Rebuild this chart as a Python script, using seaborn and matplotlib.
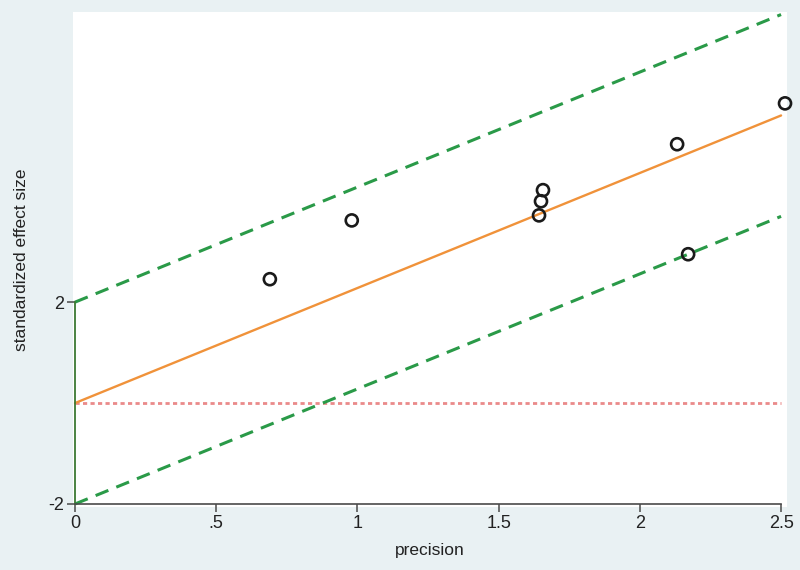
import numpy as np
import pandas as pd
import seaborn as sns
import matplotlib.pyplot as plt

# Galbraith plot data
precision = [0.69, 0.98, 1.643, 1.65, 1.657, 2.132, 2.171, 2.514]
effect_z = [2.455, 3.62, 3.72, 4.0, 4.22, 5.13, 2.95, 5.94]
slope = 2.28
band = 2.0
x_ticks = [0, 0.5, 1, 1.5, 2, 2.5]
x_tick_labels = ['0', '.5', '1', '1.5', '2', '2.5']
y_ticks = [-2, 2]
y_tick_labels = ['-2', '2']

sns.set_theme(style='white')
plt.rcParams['font.family'] = ['Liberation Sans', 'DejaVu Sans']

fig = plt.figure(figsize=(8, 5.7), dpi=100, facecolor='#e9f1f3')
ax = fig.add_axes([0.09125, 0.1105, 0.8925, 0.8684])
ax.set_facecolor('white')

pts = pd.DataFrame({'precision': precision, 'z': effect_z})
xs = np.array([0, x_ticks[-1]])
lines = pd.DataFrame({
    'x': xs,
    'fit': slope * xs,
    'upper': slope * xs + band,
    'lower': slope * xs - band,
    'zero': np.zeros(2),
})

sns.lineplot(data=lines, x='x', y='zero', ax=ax, color='#ea8a8a',
             lw=2.0, linestyle=(0, (1.5, 1.2)))
sns.lineplot(data=lines, x='x', y='upper', ax=ax, color='#2a9a48',
             lw=2.2, linestyle=(0, (4.5, 2.8)))
sns.lineplot(data=lines, x='x', y='lower', ax=ax, color='#2a9a48',
             lw=2.2, linestyle=(0, (4.5, 2.8)))
sns.lineplot(data=lines, x='x', y='fit', ax=ax, color='#f0923a', lw=1.7)
sns.scatterplot(data=pts, x='precision', y='z', ax=ax, s=75,
                facecolor='none', edgecolor='#1a1a1a', linewidth=1.9,
                zorder=5, clip_on=False)

ax.set_xlim(-0.007, 2.521)
ax.set_ylim(-2.06, 7.75)

for side in ['top', 'right']:
    ax.spines[side].set_visible(False)
ax.spines['left'].set_bounds(-2, 2)
ax.spines['left'].set_color('#3d7a34')
ax.spines['left'].set_linewidth(1.3)
ax.spines['bottom'].set_bounds(0, 2.5)
ax.spines['bottom'].set_color('#4a4a4a')
ax.spines['bottom'].set_linewidth(1.2)
ax.spines['left'].set_position(('data', 0))
ax.spines['bottom'].set_position(('data', -2))

ax.set_xticks(x_ticks)
ax.set_xticklabels(x_tick_labels)
ax.set_yticks(y_ticks)
ax.set_yticklabels(y_tick_labels)
ax.tick_params(axis='both', which='major', direction='out', length=6,
               width=1.1, color='#4a4a4a', labelsize=13, labelcolor='#222222',
               bottom=True, left=True, pad=2)

ax.set_xlabel('precision', fontsize=12.5, color='#222222', labelpad=8)
ax.set_ylabel('standardized effect size', fontsize=12.5, color='#222222',
              labelpad=14)

fig.savefig('out.png', dpi=100, facecolor=fig.get_facecolor())
